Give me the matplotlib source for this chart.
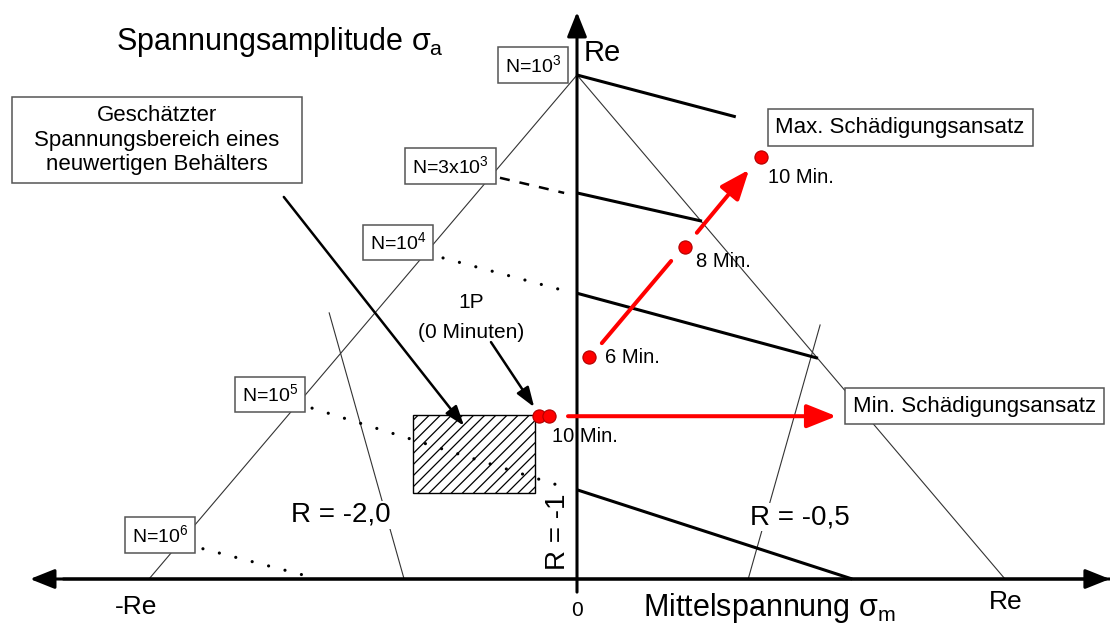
import matplotlib.pyplot as plt
from matplotlib.patches import Rectangle

plt.rcParams['font.family'] = ['Liberation Sans', 'DejaVu Sans']
plt.rcParams['mathtext.fontset'] = 'custom'
plt.rcParams['mathtext.rm'] = 'Liberation Sans'
plt.rcParams['mathtext.it'] = 'Liberation Sans'
plt.rcParams['mathtext.bf'] = 'Liberation Sans:bold'
plt.rcParams['hatch.linewidth'] = 0.9

# Haigh-Diagramm, alle Werte in Vielfachen von Re (sigma_m, sigma_a)
tri_x = [-1.0, 0.0, 1.0]
tri_y = [0.0, 1.0, 0.0]

# Wöhler-Niveaus
n_labels = ['N=10$^{3}$', 'N=3x10$^{3}$', 'N=10$^{4}$', 'N=10$^{5}$', 'N=10$^{6}$']
n_label_x = [-0.103, -0.296, -0.418, -0.717, -0.975]
n_label_y = [1.020, 0.819, 0.668, 0.366, 0.087]

# durchgezogene Linien konstanter Lebensdauer
life_x0 = [0.0, 0.0, 0.0, 0.0]
life_y0 = [1.0, 0.766, 0.567, 0.177]
life_x1 = [0.371, 0.292, 0.563, 0.643]
life_y1 = [0.917, 0.710, 0.438, 0.0]

# gestrichelte / gepunktete Verlängerung zum Label
ext_x0 = [-0.180, -0.313, -0.619, -0.874]
ext_y0 = [0.796, 0.637, 0.339, 0.060]
ext_x1 = [-0.030, -0.016, -0.040, -0.640]
ext_y1 = [0.766, 0.569, 0.185, 0.008]
ext_dotted = [False, True, True, True]

# R-Linien
r_labels = ['R = -2,0', 'R = -0,5']
r_x0 = [-0.579, 0.568]
r_y0 = [0.528, 0.504]
r_x1 = [-0.404, 0.400]
r_y1 = [0.0, 0.0]
r_text_x = [-0.551, 0.521]
r_text_y = [0.127, 0.123]

# geschätzter Spannungsbereich (schraffiert)
box_x = [-0.383, -0.098]
box_y = [0.171, 0.325]

# Textkasten "Geschätzter Spannungsbereich"
note_x = [-1.320, -0.643]
note_y = [0.786, 0.956]

# Messpunkte
pts_x = [-0.089, -0.065, 0.028, 0.252, 0.430]
pts_y = [0.323, 0.323, 0.440, 0.659, 0.837]
pt_labels = ['6 Min.', '8 Min.', '10 Min.', '10 Min.']
pt_label_x = [0.065, 0.278, 0.446, -0.058]
pt_label_y = [0.440, 0.630, 0.796, 0.282]

fig = plt.figure(figsize=(11.1, 6.28), dpi=100)
ax = fig.add_axes([0, 0, 1, 1])
ax.set_xlim(-577 / 428, 533 / 428)
ax.set_ylim(-49 / 504, 579 / 504)
ax.axis('off')

# Achsen mit Pfeilen
ax.annotate('', xy=(-1.278, 0), xytext=(1.245, 0),
            arrowprops=dict(arrowstyle='-|>,head_length=1.0,head_width=0.4', mutation_scale=15,
                            lw=2.2, color='black', shrinkA=0, shrinkB=0), zorder=4)
ax.annotate('', xy=(1.245, 0), xytext=(-1.2, 0),
            arrowprops=dict(arrowstyle='-|>,head_length=1.0,head_width=0.4', mutation_scale=15,
                            lw=2.2, color='black', shrinkA=0, shrinkB=0), zorder=4)
ax.annotate('', xy=(0, 1.125), xytext=(0, -0.026),
            arrowprops=dict(arrowstyle='-|>,head_length=1.0,head_width=0.4', mutation_scale=15,
                            lw=2.2, color='black', shrinkA=0, shrinkB=0), zorder=4)

# Dreieck
ax.plot(tri_x, tri_y, color='#333333', lw=0.8, zorder=1)

# Linien konstanter Lebensdauer
for i in range(len(life_x0)):
    ax.plot([life_x0[i], life_x1[i]], [life_y0[i], life_y1[i]], color='black', lw=2.2,
            solid_capstyle='butt', zorder=3)
for i in range(len(ext_x0)):
    if ext_dotted[i]:
        ax.plot([ext_x0[i], ext_x1[i]], [ext_y0[i], ext_y1[i]], color='black', lw=2.3,
                linestyle=(0, (0.01, 5.3)), dash_capstyle='round', zorder=3)
    else:
        ax.plot([ext_x0[i], ext_x1[i]], [ext_y0[i], ext_y1[i]], color='black', lw=1.8,
                linestyle=(0, (4, 4)), zorder=3)

# Wöhler-Labels
for lab, x, y in zip(n_labels, n_label_x, n_label_y):
    ax.text(x, y, lab, fontsize=14, ha='center', va='center', zorder=5,
            bbox=dict(boxstyle='square,pad=0.35', facecolor='white', edgecolor='#555555', lw=1.1))

# R-Linien
for i in range(len(r_labels)):
    ax.plot([r_x0[i], r_x1[i]], [r_y0[i], r_y1[i]], color='#333333', lw=0.8, zorder=1)
    ax.text(r_text_x[i], r_text_y[i], r_labels[i], fontsize=20, ha='center', va='center', zorder=2,
            bbox=dict(boxstyle='square,pad=0.05', facecolor='white', edgecolor='none'))
ax.text(-0.044, 0.093, 'R = -1', fontsize=20, rotation=90, ha='center', va='center', zorder=2)

# schraffierter Bereich
ax.add_patch(Rectangle((box_x[0], box_y[0]), box_x[1] - box_x[0], box_y[1] - box_y[0],
                       facecolor='white', edgecolor='black', hatch='///', lw=1.0, zorder=2))

# rote Pfeile
ax.annotate('', xy=(0.220, 0.631), xytext=(0.058, 0.468),
            arrowprops=dict(arrowstyle='-', lw=2.9, color='#FF0000', shrinkA=0, shrinkB=0), zorder=4)
ax.annotate('', xy=(0.402, 0.812), xytext=(0.280, 0.687),
            arrowprops=dict(arrowstyle='-|>,head_length=1.0,head_width=0.4', mutation_scale=18,
                            lw=2.9, color='#FF0000', shrinkA=0, shrinkB=0), zorder=4)
ax.annotate('', xy=(0.606, 0.323), xytext=(-0.021, 0.323),
            arrowprops=dict(arrowstyle='-|>,head_length=1.0,head_width=0.4', mutation_scale=18,
                            lw=2.9, color='#FF0000', shrinkA=0, shrinkB=0), zorder=4)

# Messpunkte
ax.plot(pts_x, pts_y, 'o', markersize=9.5, markerfacecolor='#FF0000', markeredgecolor='#B00000',
        markeredgewidth=0.8, linestyle='none', zorder=6)
for lab, x, y in zip(pt_labels, pt_label_x, pt_label_y):
    ax.text(x, y, lab, fontsize=14.5, ha='left', va='center', zorder=6)

# schwarze Hinweispfeile
ax.annotate('', xy=(-0.264, 0.304), xytext=(-0.685, 0.758),
            arrowprops=dict(arrowstyle='-|>,head_length=1.0,head_width=0.35', mutation_scale=12,
                            lw=1.8, color='black', shrinkA=0, shrinkB=0), zorder=5)
ax.annotate('', xy=(-0.100, 0.341), xytext=(-0.201, 0.470),
            arrowprops=dict(arrowstyle='-|>,head_length=1.0,head_width=0.35', mutation_scale=12,
                            lw=1.8, color='black', shrinkA=0, shrinkB=0), zorder=5)

ax.text(-0.248, 0.548, '1P', fontsize=15, ha='center', va='center')
ax.text(-0.248, 0.490, '(0 Minuten)', fontsize=15, ha='center', va='center')

# Textboxen
ax.add_patch(Rectangle((note_x[0], note_y[0]), note_x[1] - note_x[0], note_y[1] - note_y[0],
                       facecolor='white', edgecolor='#555555', lw=1.1, zorder=4))
ax.text((note_x[0] + note_x[1]) / 2, (note_y[0] + note_y[1]) / 2,
        'Geschätzter\nSpannungsbereich eines\nneuwertigen Behälters', fontsize=16,
        ha='center', va='center', linespacing=1.2, zorder=5)
ax.text(0.755, 0.896, 'Max. Schädigungsansatz', fontsize=16, ha='center', va='center',
        bbox=dict(boxstyle='square,pad=0.35', facecolor='white', edgecolor='#555555', lw=1.1))
ax.text(0.928, 0.343, 'Min. Schädigungsansatz', fontsize=16, ha='center', va='center', zorder=5,
        bbox=dict(boxstyle='square,pad=0.35', facecolor='white', edgecolor='#555555', lw=1.1))

# Achsenbeschriftungen
ax.text(-1.077, 1.065, r'Spannungsamplitude $\sigma_{\mathrm{a}}$', fontsize=22, ha='left', va='center')
ax.text(0.016, 1.044, 'Re', fontsize=21, ha='left', va='center')
ax.text(-1.030, -0.056, '-Re', fontsize=19, ha='center', va='center')
ax.text(1.002, -0.046, 'Re', fontsize=19, ha='center', va='center')
ax.text(0.0, -0.062, '0', fontsize=15, ha='center', va='center')
ax.text(0.154, -0.058, r'Mittelspannung $\sigma_{\mathrm{m}}$', fontsize=22, ha='left', va='center')

fig.savefig('out.png', dpi=100, facecolor='white')
